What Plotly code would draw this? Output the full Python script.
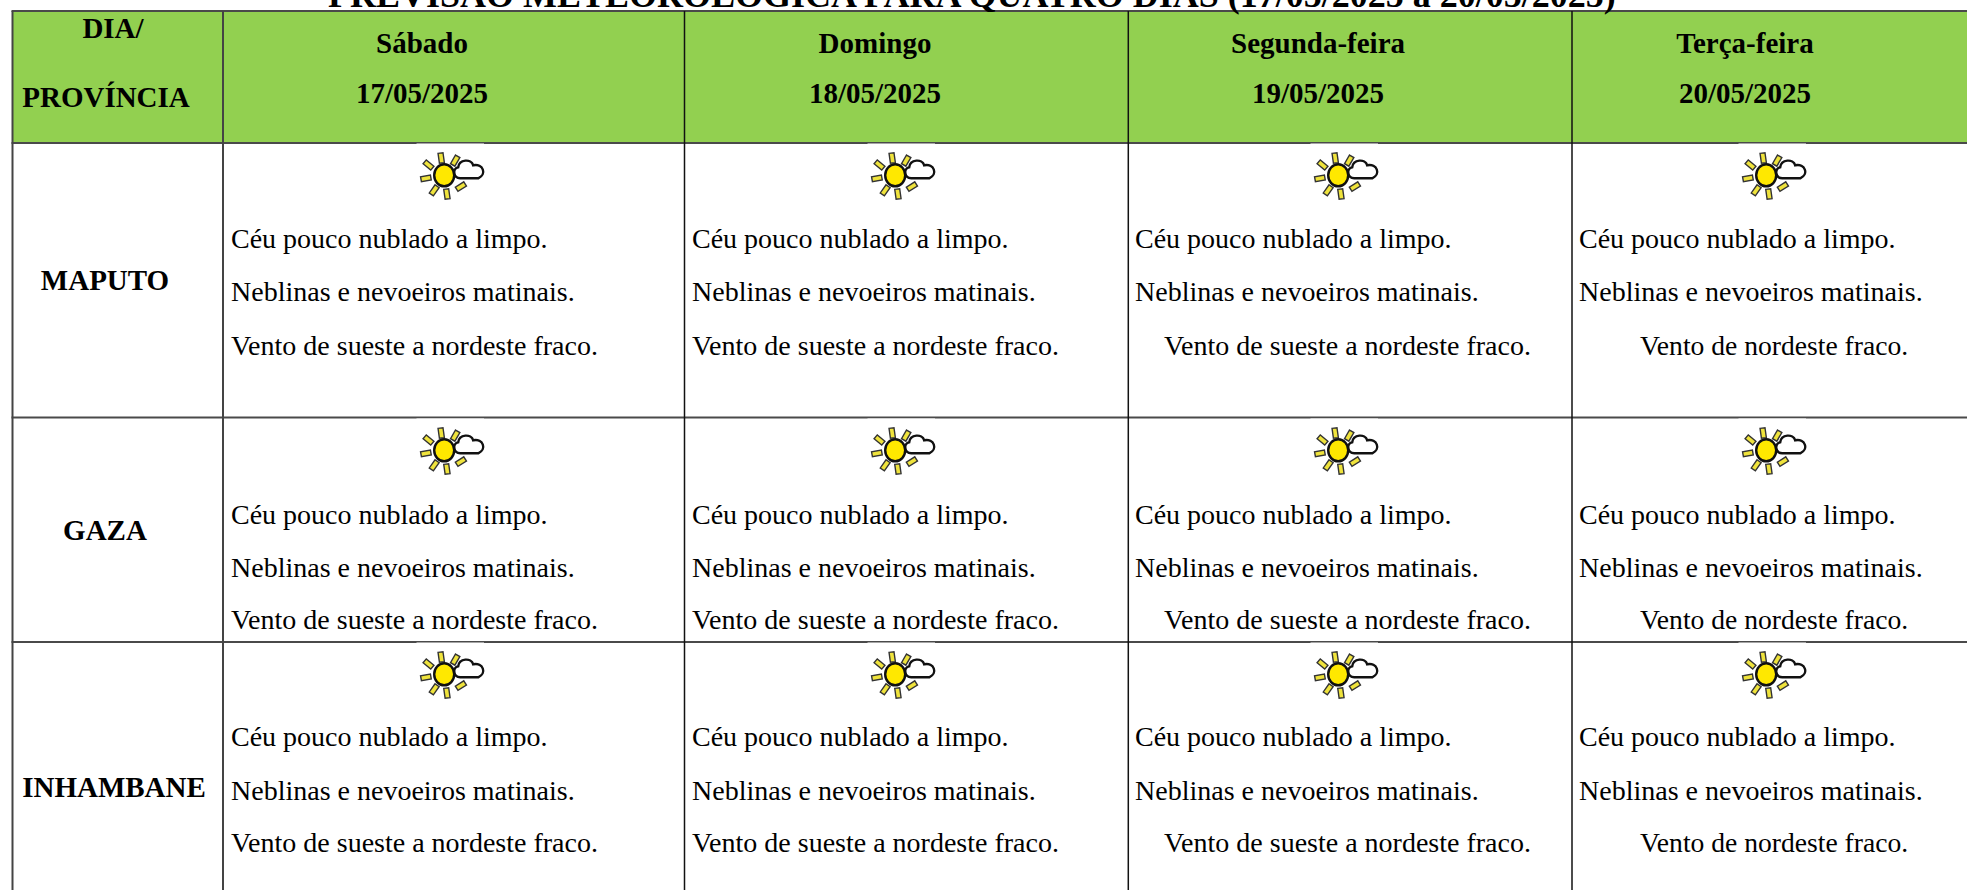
import math
import plotly.graph_objects as go

title = "PREVISÃO METEOROLÓGICA PARA QUATRO DIAS (17/05/2025 a 20/05/2025)"
head_corner = ["DIA/", "PROVÍNCIA"]
days = ["Sábado", "Domingo", "Segunda-feira", "Terça-feira"]
dates = ["17/05/2025", "18/05/2025", "19/05/2025", "20/05/2025"]
provinces = ["MAPUTO", "GAZA", "INHAMBANE"]
line_sky = "Céu pouco nublado a limpo."
line_fog = "Neblinas e nevoeiros matinais."
wind = [
    ["Vento de sueste a nordeste fraco.", "Vento de sueste a nordeste fraco.",
     "Vento de sueste a nordeste fraco.", "Vento de nordeste fraco."],
] * 3

# layout (page pixels)
W, H = 1967, 890
FONT = "Liberation Serif"
col_lines = [12.5, 223, 684.5, 1128.3, 1572]
row_lines = [11, 143, 417.5, 642]
head_cx = [422, 875, 1318, 1745]
text_x = [231, 692, 1135, 1579]
wind_x = [231, 692, 1164, 1640]
wind_size = [28, 28, 28, 27.6]
icon_cx = [454.5, 905.5, 1348.5, 1776.5]
icon_cy = [176, 451, 675]
sky_y = [241, 517, 739]
fog_y = [294, 570, 793]
wind_y = [348, 622, 845]
prov_x = [105, 105, 114]
prov_y = [283, 533, 790]

fig = go.Figure()
shapes = []


def rect(x0, y0, x1, y1, fill):
    shapes.append(dict(type="rect", x0=x0, y0=y0, x1=x1, y1=y1,
                       fillcolor=fill, line=dict(width=0), layer="below"))


def hline(y, color="#4a4a4a", width=2):
    shapes.append(dict(type="line", x0=col_lines[0] - 1, x1=W, y0=y, y1=y,
                       line=dict(color=color, width=width)))


def vline(x, y0, y1, color="#111111", width=1.5):
    shapes.append(dict(type="line", x0=x, x1=x, y0=y0, y1=y1,
                       line=dict(color=color, width=width)))


rect(col_lines[0], row_lines[0], W, row_lines[1], "#92D050")
for y in row_lines:
    hline(y)
for i, x in enumerate(col_lines):
    vline(x, row_lines[0], H, color="#444444" if i < 2 else "#111111", width=2 if i < 2 else 1.5)


def icon(cx, cy):
    ox, oy = cx - 10.3, cy - 0.7
    # white image background interrupting the rule above it
    shapes.append(dict(type="rect", x0=cx - 38, x1=cx + 29.5, y0=cy - 32.5, y1=cy + 24,
                       fillcolor="white", line=dict(width=0)))
    # rays: centre offset from the sun, rotation in degrees
    rays = [(-3, -17.3, -8), (11, -14.7, 30), (-15.7, -10.3, -50), (-18.3, 3, -100),
            (-10, 15, 35), (2.7, 18.7, -8), (16.7, 11.3, 58)]
    for dx, dy, ang in rays:
        a = math.radians(ang)
        c, s = math.cos(a), math.sin(a)
        pts = [(-2.5, -5), (2.5, -5), (2.5, 5), (-2.5, 5)]
        p = [(ox + dx + px * c - py * s, oy + dy + px * s + py * c) for px, py in pts]
        path = "M " + " L ".join(f"{x:.2f},{y:.2f}" for x, y in p) + " Z"
        shapes.append(dict(type="path", path=path, fillcolor="#EFE33C",
                           line=dict(color="#333333", width=1.4)))
    shapes.append(dict(type="circle", x0=ox - 10, x1=ox + 10, y0=oy - 11, y1=oy + 11,
                       fillcolor="#FFE800", line=dict(color="#111111", width=2.4)))
    # cloud
    X = lambda v: f"{ox + v:.2f}"
    Y = lambda v: f"{oy + v:.2f}"
    cloud = (f"M {X(16)},{Y(3)} C {X(9)},{Y(3)} {X(8)},{Y(-7)} {X(14)},{Y(-8)} "
             f"C {X(15)},{Y(-16)} {X(27)},{Y(-17)} {X(29)},{Y(-10)} "
             f"C {X(39)},{Y(-12)} {X(43)},{Y(-1)} {X(34)},{Y(3)} Z")
    shapes.append(dict(type="path", path=cloud, fillcolor="white",
                       line=dict(color="#111111", width=2.4)))


for cy in icon_cy:
    for cx in icon_cx:
        icon(cx, cy)


def add_text(xs, ys, texts, size, bold=False, pos="middle center"):
    t = [f"<b>{s}</b>" if bold else s for s in texts]
    fig.add_trace(go.Scatter(x=xs, y=ys, text=t, mode="text", textposition=pos,
                             textfont=dict(family=FONT, size=size, color="#000000"),
                             hoverinfo="skip", showlegend=False, cliponaxis=False))


add_text([113, 106], [31, 100], head_corner, 29, bold=True)
add_text(head_cx, [46] * 4, days, 29, bold=True)
add_text(head_cx, [96] * 4, dates, 29, bold=True)
add_text(prov_x, prov_y, provinces, 29, bold=True)

for r in range(3):
    add_text(text_x, [sky_y[r]] * 4, [line_sky] * 4, 28, pos="middle right")
    add_text(text_x, [fog_y[r]] * 4, [line_fog] * 4, 28, pos="middle right")
    add_text(wind_x, [wind_y[r]] * 4, wind[r], wind_size, pos="middle right")

fig.add_annotation(x=972, y=0, text=f"<b>{title}</b>", showarrow=False, xanchor="center",
                   yanchor="middle", yshift=5, font=dict(family=FONT, size=36, color="#000000"))

fig.update_layout(
    width=W, height=H, margin=dict(l=0, r=0, t=0, b=0),
    paper_bgcolor="white", plot_bgcolor="white", shapes=shapes, showlegend=False,
    xaxis=dict(range=[0, W], visible=False, fixedrange=True),
    yaxis=dict(range=[H, 0], visible=False, fixedrange=True),
)
fig.write_html("out.html", config=dict(displayModeBar=False),
               post_script="document.body.style.margin='0';document.documentElement.style.overflow='hidden';")
